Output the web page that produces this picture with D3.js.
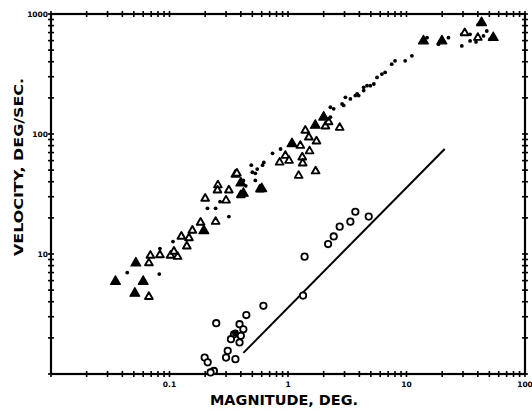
<!DOCTYPE html>
<html><head><meta charset="utf-8">
<script src="https://cdn.jsdelivr.net/npm/d3@7"></script>
<style>body{margin:0;background:#fff}</style>
</head><body><svg id="c" width="532" height="411"></svg>
<script>
// ---- data (magnitude deg, velocity deg/sec) ----
const xTickLabels = ["0.1", "1", "10", "100"];
const xTickValues = [0.1, 1, 10, 100];
const yTickLabels = ["1000", "100", "10"];
const yTickValues = [1000, 100, 10];
const xTitle = "MAGNITUDE, DEG.";
const yTitle = "VELOCITY, DEG/SEC.";

const filledTriangles = [[0.035,5.9],[0.052,8.4],[0.060,5.9],[0.051,4.7],[0.195,15.6],[0.40,39],[0.42,32],[0.60,35],[1.08,83],[1.7,118],[2.0,138],[13.9,596],[19.9,596],[43,846],[54,635]];
const openTriangles = [[0.067,4.4],[0.069,9.7],[0.067,8.4],[0.083,9.8],[0.102,9.7],[0.109,10.5],[0.117,9.5],[0.14,11.6],[0.126,14],[0.146,13.6],[0.156,15.7],[0.183,18.3],[0.245,18.6],[0.20,29],[0.256,37.5],[0.254,34],[0.30,28],[0.317,34],[0.36,46],[0.58,34.6],[0.40,31],[0.37,47],[0.85,58],[0.95,66],[1.02,60],[1.27,80],[1.32,64],[1.33,57],[1.23,45],[1.71,49],[1.52,72],[1.74,87],[1.40,107],[1.5,94],[2.07,116],[2.2,126],[2.73,113],[31,695],[40,635]];
const dots = [[0.044,7.0],[0.082,6.8],[0.083,11.1],[0.107,12.7],[0.245,24],[0.209,24],[0.317,20.5],[0.267,27.3],[0.49,55],[0.50,48],[0.53,47],[0.53,41],[0.61,55],[0.55,51],[0.625,58],[0.74,69],[0.865,75],[0.44,37],[0.42,41],[2.28,167],[2.43,162],[2.95,173],[3.05,202],[3.36,196],[3.7,209],[3.95,209],[4.35,245],[4.95,253],[5.3,261],[4.64,253],[4.35,230],[3.83,216],[2.86,178],[2.28,138],[2.14,126],[5.64,296],[6.2,316],[6.6,326],[7.5,382],[8.0,407],[9.75,407],[11.1,448],[14.9,635],[18.6,560],[22.6,635],[29.3,677],[34.4,677],[29.3,542],[34.4,596],[40.4,820],[44.6,656],[47.6,722],[50.7,616],[38.6,585]];
const openCircles = [[3.7,22.5],[4.8,20.5],[3.36,18.6],[2.73,16.9],[2.43,14],[2.18,12.1],[1.38,9.5],[1.34,4.5],[0.62,3.7],[0.445,3.1],[0.248,2.65],[0.39,2.6],[0.42,2.36],[0.35,2.14],[0.33,1.95],[0.40,2.08],[0.39,1.83],[0.31,1.56],[0.30,1.37],[0.36,1.33],[0.198,1.37],[0.21,1.25],[0.237,1.06],[0.222,1.03]];
const filledCircles = [[0.36,2.2]];
const fitLineX = [0.42, 21];
const fitLineY = [1.5, 75];

// ---- drawing ----
const svg = d3.select("#c");
const x = d3.scaleLog().domain([0.01, 100]).range([51, 525]);
const y = d3.scaleLog().domain([1, 1000]).range([374, 14]);
const ink = "#000";
const [x0, x1] = x.range();
const [y0, y1] = y.range();

// frame
svg.append("rect").attr("x", x0).attr("y", y1).attr("width", x1 - x0).attr("height", y0 - y1)
  .attr("fill", "none").attr("stroke", ink).attr("stroke-width", 2.2);

// cross ticks on all four sides
const xt = x.ticks();
const yt = y.ticks();
const tk = 3;
const g = svg.append("g").attr("stroke", ink).attr("stroke-width", 1.6);
xt.forEach(v => {
  [y0, y1].forEach(yy => g.append("line").attr("x1", x(v)).attr("x2", x(v)).attr("y1", yy - tk).attr("y2", yy + tk));
});
yt.forEach(v => {
  [x0, x1].forEach(xx => g.append("line").attr("y1", y(v)).attr("y2", y(v)).attr("x1", xx - tk).attr("x2", xx + tk));
});

// tick labels
const lblFont = "'DejaVu Sans', sans-serif";
xTickValues.forEach((v, i) => {
  svg.append("text").attr("x", x(v)).attr("y", 387).attr("text-anchor", "middle")
    .attr("font-family", lblFont).attr("font-weight", "bold").attr("font-size", 7.5).attr("fill", ink)
    .text(xTickLabels[i]);
});
yTickValues.forEach((v, i) => {
  svg.append("text").attr("x", 48).attr("y", y(v) + 3).attr("text-anchor", "end")
    .attr("font-family", lblFont).attr("font-weight", "bold").attr("font-size", 7.5).attr("fill", ink)
    .text(yTickLabels[i]);
});

// axis titles
svg.append("text").attr("x", 284).attr("y", 405).attr("text-anchor", "middle")
  .attr("font-family", lblFont).attr("font-weight", "bold").attr("font-size", 13.5).attr("fill", ink)
  .attr("textLength", 148).attr("lengthAdjust", "spacingAndGlyphs").text(xTitle);
svg.append("text").attr("transform", "translate(23,167) rotate(-90)").attr("text-anchor", "middle")
  .attr("font-family", lblFont).attr("font-weight", "bold").attr("font-size", 13).attr("fill", ink)
  .attr("textLength", 178).attr("lengthAdjust", "spacingAndGlyphs").text(yTitle);

// fit line
svg.append("line").attr("x1", x(fitLineX[0])).attr("y1", y(fitLineY[0]))
  .attr("x2", x(fitLineX[1])).attr("y2", y(fitLineY[1]))
  .attr("stroke", ink).attr("stroke-width", 2);

const tri = d3.symbol().type(d3.symbolTriangle);
// dots
svg.append("g").selectAll("circle").data(dots).join("circle")
  .attr("cx", d => x(d[0])).attr("cy", d => y(d[1])).attr("r", 1.9).attr("fill", ink);
// open triangles
svg.append("g").selectAll("path").data(openTriangles).join("path")
  .attr("transform", d => `translate(${x(d[0])},${y(d[1])})`)
  .attr("d", tri.size(26)).attr("fill", "#fff").attr("stroke", ink).attr("stroke-width", 1.9).attr("stroke-linejoin", "round");
// filled triangles
svg.append("g").selectAll("path").data(filledTriangles).join("path")
  .attr("transform", d => `translate(${x(d[0])},${y(d[1])})`)
  .attr("d", tri.size(42)).attr("fill", ink).attr("stroke", ink).attr("stroke-width", 1.2).attr("stroke-linejoin", "round");
// open circles
svg.append("g").selectAll("circle").data(openCircles).join("circle")
  .attr("cx", d => x(d[0])).attr("cy", d => y(d[1])).attr("r", 3.2)
  .attr("fill", "#fff").attr("stroke", ink).attr("stroke-width", 1.8);
svg.append("g").selectAll("circle").data(filledCircles).join("circle")
  .attr("cx", d => x(d[0])).attr("cy", d => y(d[1])).attr("r", 3.4).attr("fill", ink);
</script>
</body></html>
